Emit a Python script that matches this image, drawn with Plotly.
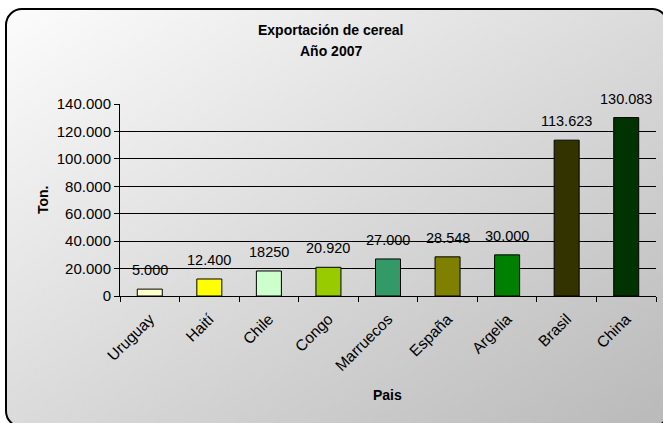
import base64
import plotly.graph_objects as go

paises = ["Uruguay", "Haití", "Chile", "Congo", "Marruecos", "España", "Argelia", "Brasil", "China"]
toneladas = [5000, 12400, 18250, 20920, 27000, 28548, 30000, 113623, 130083]
etiquetas = ["5.000", "12.400", "18250", "20.920", "27.000", "28.548", "30.000", "113.623", "130.083"]
colores = ["#FFFFCC", "#FFFF00", "#CCFFCC", "#99CC00", "#339966", "#808000", "#008000", "#333300", "#003300"]
y_ticks = [0, 20000, 40000, 60000, 80000, 100000, 120000, 140000]

W, H = 663, 423
L, R, T, B = 120, 7, 104, 127
pw, ph = W - L - R, H - T - B

svg = f'''<svg xmlns="http://www.w3.org/2000/svg" width="{W}" height="{H}" viewBox="0 0 {W} {H}">
<defs><linearGradient id="g" x1="0" y1="0" x2="1" y2="1">
<stop offset="0" stop-color="#fcfcfc"/><stop offset="1" stop-color="#b9b9b9"/></linearGradient></defs>
<rect x="0" y="0" width="{W}" height="{H}" fill="#ffffff"/>
<rect x="6" y="9" width="662" height="418" rx="16" ry="16" fill="url(#g)" stroke="#000" stroke-width="2"/>
</svg>'''
src = "data:image/svg+xml;base64," + base64.b64encode(svg.encode()).decode()

FONT = "Liberation Sans, Arial, sans-serif"


def px(x):
    return (x - L) / pw


def py(y):
    return (H - B - y) / ph


fig = go.Figure(go.Bar(
    x=paises, y=toneladas,
    marker=dict(color=colores, line=dict(color="#000", width=1)),
    hoverinfo="skip",
))

annots = [
    dict(text="<b>Exportación de cereal</b>", x=px(331), y=py(30), yanchor="middle",
         xref="paper", yref="paper", showarrow=False, font=dict(size=14)),
    dict(text="<b>Año 2007</b>", x=px(331), y=py(51), yanchor="middle",
         xref="paper", yref="paper", showarrow=False, font=dict(size=14)),
    dict(text="<b>Pais</b>", x=px(387), y=py(395), yanchor="middle",
         xref="paper", yref="paper", showarrow=False, font=dict(size=14)),
    dict(text="<b>Ton.</b>", x=px(33), y=py(200), yanchor="middle", textangle=-90,
         xref="paper", yref="paper", showarrow=False, font=dict(size=14)),
]
for p, v, t in zip(paises, toneladas, etiquetas):
    annots.append(dict(text=t, x=p, y=v, xref="x", yref="y", yanchor="middle", yshift=19,
                       showarrow=False, font=dict(size=14.5)))

fig.update_layout(
    width=W, height=H,
    margin=dict(l=L, r=R, t=T, b=B, autoexpand=False),
    paper_bgcolor="#ffffff", plot_bgcolor="rgba(0,0,0,0)",
    separators=",.",
    bargap=0.58,
    showlegend=False,
    font=dict(family=FONT, size=14, color="#000"),
    images=[dict(source=src, xref="paper", yref="paper",
                 x=-L / pw, y=(ph + T) / ph, sizex=W / pw, sizey=H / ph,
                 xanchor="left", yanchor="top", sizing="stretch", layer="below")],
    annotations=annots,
)

fig.update_xaxes(
    type="category", tickangle=-45, tickson="boundaries", ticks="outside", ticklen=5,
    tickcolor="#000", showline=True, linecolor="#000", linewidth=1,
    tickfont=dict(size=15.5), ticklabelstandoff=7,
)
fig.update_yaxes(
    range=[0, 140000], tickvals=y_ticks, tickformat=",d", ticks="outside", ticklen=5,
    tickcolor="#000", showline=True, linecolor="#000", linewidth=1,
    showgrid=True, gridcolor="#000", gridwidth=1, zeroline=False,
    tickfont=dict(size=15),
)

fig.write_html("out.html", config={"displayModeBar": False},
               post_script="document.body.style.margin='0';document.body.style.padding='0';")
